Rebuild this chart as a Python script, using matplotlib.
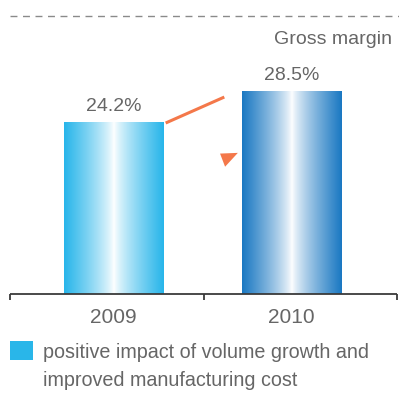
import numpy as np
import matplotlib
matplotlib.use("Agg")
import matplotlib.pyplot as plt
from matplotlib.patches import Rectangle, Polygon
from matplotlib.lines import Line2D
from matplotlib.colors import to_rgb

# Data
years = ["2009", "2010"]
margins = [24.2, 28.5]
legend_lines = ["positive impact of volume growth and",
                "improved manufacturing cost"]
title_text = "Gross margin"

# Layout / styling
positions = [0.535, 1.455]
bar_width = 0.515
edge_colors = ["#27b5ea", "#1a78c2"]
text_gray = "#666666"
orange = "#f4784a"
font = ["Liberation Sans", "DejaVu Sans"]

W, H = 399, 403
fig = plt.figure(figsize=(W / 100, H / 100), dpi=100)
fig.patch.set_facecolor("white")

px_per_unit = 7.11
ax_left, ax_right = 10, 397
ax_bottom, ax_top = 294, 16
ax = fig.add_axes([ax_left / W, (H - ax_bottom) / H,
                   (ax_right - ax_left) / W, (ax_bottom - ax_top) / H])
ax.set_xlim(0, 2)
ax.set_ylim(0, (ax_bottom - ax_top) / px_per_unit)
ax.axis("off")


def gradient_bar(ax, x, h, w, edge):
    """Bar with a cylindrical shading: saturated edges, white core."""
    n = 256
    t = np.abs(np.linspace(-1, 1, n))
    t = t ** 0.8
    e = np.array(to_rgb(edge))
    cols = (1 - t)[:, None] * np.ones(3) + t[:, None] * e
    img = np.tile(cols[None, :, :], (2, 1, 1))
    rect = Rectangle((x - w / 2, 0), w, h, facecolor="none", edgecolor="none")
    ax.add_patch(rect)
    im = ax.imshow(img, extent=(x - w / 2, x + w / 2, 0, h), aspect="auto",
                   origin="lower", interpolation="bilinear", zorder=2)
    im.set_clip_path(rect)


for x, v, c in zip(positions, margins, edge_colors):
    gradient_bar(ax, x, v, bar_width, c)
    ax.text(x, v + 2.2, f"{v}%", ha="center", va="center", fontsize=14,
            color=text_gray, family=font)

# baseline with separating ticks
base_color = "#3a3a3a"
ax.plot([0, 2], [0, 0], color=base_color, lw=1.3, zorder=3, clip_on=False,
        solid_capstyle="butt")
tick_len = 6 / px_per_unit
for tx in [0, 1, 2]:
    ax.plot([tx, tx], [0, -tick_len], color=base_color, lw=1.3,
            clip_on=False, zorder=3, solid_capstyle="butt")

for x, y in zip(positions, years):
    ax.text(x, -3.3, y, ha="center", va="center", fontsize=15,
            color=text_gray, family=font)

# change indicator between the bars
x_from = positions[0] + bar_width / 2 + 0.012
x_to = positions[1] - bar_width / 2 - 0.09
ax.plot([x_from, x_to], [margins[0] - 0.15, margins[1] - 0.8],
        color=orange, lw=2.2, solid_capstyle="butt", zorder=3)
tri_x0 = positions[1] - bar_width / 2
ax.add_patch(Polygon([[tri_x0 - 0.112, 19.75], [tri_x0 - 0.02, 19.85],
                      [tri_x0 - 0.086, 17.9]], closed=True,
                     facecolor=orange, edgecolor="none", zorder=3))

# top dashed rule and caption
fig.add_artist(Line2D([10 / W, 1.0], [(H - 16) / H] * 2, color="#8a8a8a",
                      lw=1.0, ls=(0, (5, 4))))
fig.text(392 / W, (H - 40) / H, title_text, ha="right", va="center",
         fontsize=14, color=text_gray, family=font)

# legend
fig.add_artist(Rectangle((10 / W, (H - 360) / H), 23 / W, 19 / H,
                         transform=fig.transFigure, facecolor="#29b6e9",
                         edgecolor="none"))
for i, line in enumerate(legend_lines):
    fig.text(43 / W, (H - 352 - 28 * i) / H, line, ha="left", va="center",
             fontsize=14.2, color=text_gray, family=font)

fig.savefig("out.png", dpi=100, facecolor="white")
